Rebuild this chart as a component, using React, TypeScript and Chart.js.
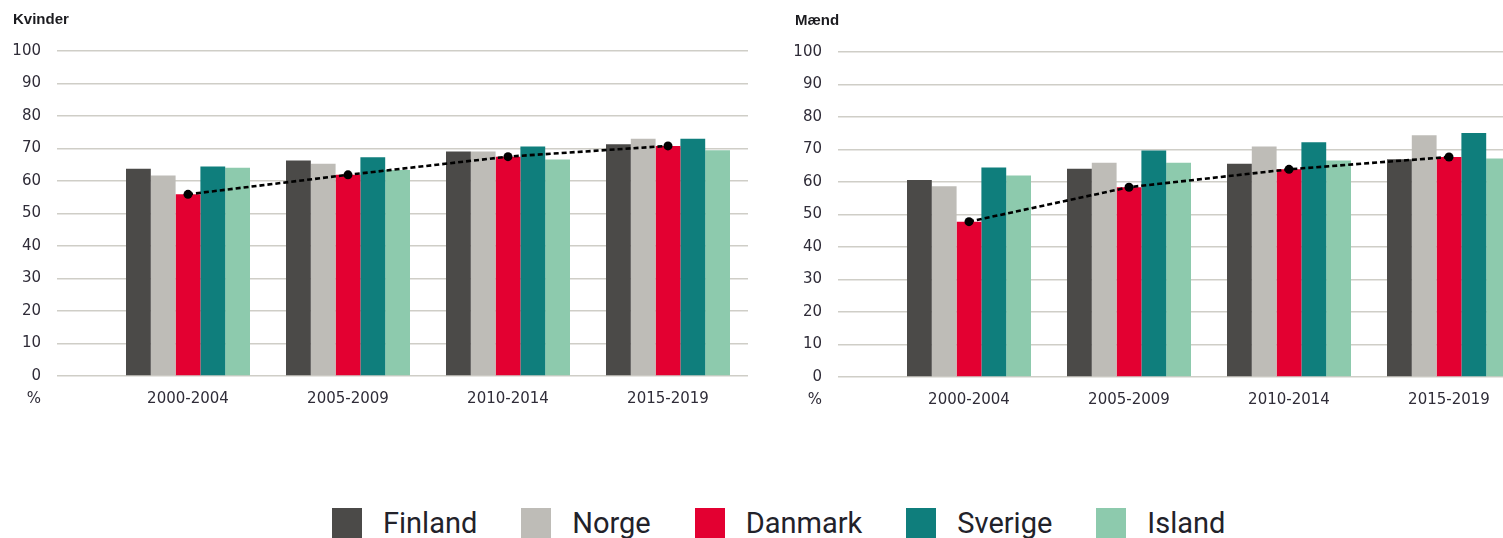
import React, { useEffect, useRef } from "react";
import { Chart, registerables } from "chart.js";

Chart.register(...registerables);

// ---- data ----
const periods = ["2000-2004", "2005-2009", "2010-2014", "2015-2019"];
const countries = ["Finland", "Norge", "Danmark", "Sverige", "Island"];
const colors = ["#4b4a48", "#bebcb7", "#e30031", "#0f7e7c", "#8dcaad"];

const kvinderFinland = [63.8, 66.3, 69.1, 71.3];
const kvinderNorge = [61.7, 65.3, 69.1, 73.0];
const kvinderDanmark = [55.9, 61.9, 67.5, 70.8];
const kvinderSverige = [64.5, 67.3, 70.6, 73.0];
const kvinderIsland = [64.1, 63.4, 66.6, 69.5];

const maendFinland = [60.6, 64.1, 65.6, 67.0];
const maendNorge = [58.7, 65.9, 70.9, 74.4];
const maendDanmark = [47.8, 58.4, 63.9, 67.7];
const maendSverige = [64.5, 69.7, 72.2, 75.1];
const maendIsland = [62.0, 65.9, 66.6, 67.2];

const yMin = 0;
const yMax = 100;
const yStep = 10;
const unitLabel = "%";

// ---- styling ----
const tickFont = { family: "'DejaVu Sans', sans-serif", size: 15 };
const tickColor = "#2f2c38";
const gridColor = "#cfcec7";
const GRID_EXT = 51;
const TICK_PAD = 16;

const percentPlugin = {
  id: "percentLabel",
  afterDraw(chart: any) {
    const { ctx, chartArea } = chart;
    const y = chart.scales.y;
    ctx.save();
    ctx.font = `${tickFont.size}px ${tickFont.family}`;
    ctx.fillStyle = tickColor;
    ctx.textAlign = "right";
    ctx.textBaseline = "middle";
    ctx.fillText(unitLabel, y.right - GRID_EXT - TICK_PAD, chartArea.bottom + 23);
    ctx.restore();
  },
};

type PanelProps = {
  title: string;
  series: number[][];
  trend: number[];
  width: number;
  height: number;
  padLeft: number;
  padRight: number;
  yWidth: number;
  xHeight: number;
  titleTop: number;
  titleBottom: number;
};

function Panel(p: PanelProps) {
  const ref = useRef<HTMLCanvasElement | null>(null);
  useEffect(() => {
    if (!ref.current) return;
    const chart = new Chart(ref.current, {
      type: "bar",
      data: {
        labels: periods,
        datasets: [
          {
            type: "line",
            label: "Danmark (udvikling)",
            data: p.trend,
            borderColor: "#000",
            borderWidth: 2.6,
            borderDash: [5, 3],
            pointRadius: 4.5,
            pointBackgroundColor: "#000",
            pointBorderWidth: 0,
            fill: false,
            tension: 0,
            order: 0,
          } as any,
          ...countries.map((c, i) => ({
            type: "bar",
            label: c,
            data: p.series[i],
            backgroundColor: colors[i],
            borderWidth: 0,
            barPercentage: 1,
            categoryPercentage: 0.775,
            order: 1,
          })),
        ],
      },
      options: {
        animation: false,
        responsive: false,
        maintainAspectRatio: false,
        layout: { padding: { left: p.padLeft, right: p.padRight, top: 0, bottom: 0 } },
        plugins: {
          legend: { display: false },
          tooltip: { enabled: false },
          title: {
            display: true,
            text: p.title,
            align: "start",
            color: "#1b1b1f",
            font: { family: "'Liberation Sans', Arial, sans-serif", size: 15, weight: "bold" },
            padding: { top: p.titleTop, bottom: p.titleBottom },
          },
        },
        scales: {
          x: {
            offset: true,
            grid: { display: false, drawTicks: false },
            border: { display: false },
            ticks: { color: tickColor, font: tickFont, padding: 14 },
            afterFit: (s: any) => {
              s.height = p.xHeight;
            },
          },
          y: {
            min: yMin,
            max: yMax,
            ticks: { stepSize: yStep, color: tickColor, font: tickFont, padding: TICK_PAD },
            grid: { color: gridColor, lineWidth: 1.5, drawTicks: true, tickLength: GRID_EXT },
            border: { display: false },
            afterFit: (s: any) => {
              s.width = p.yWidth;
            },
          },
        },
      } as any,
      plugins: [percentPlugin],
    });
    return () => chart.destroy();
  }, []);
  return (
    <canvas
      ref={ref}
      width={p.width}
      height={p.height}
      style={{ width: p.width, height: p.height, display: "block" }}
    />
  );
}

const legendFont = "Roboto, 'Liberation Sans', sans-serif";

export default function App() {
  return (
    <div
      style={{
        position: "absolute",
        left: 0,
        top: 0,
        width: 1503,
        height: 538,
        overflow: "hidden",
        background: "#fff",
      }}
    >
      <div style={{ position: "absolute", left: 0, top: 0, width: 760, height: 420 }}>
        <Panel
          title="Kvinder"
          series={[kvinderFinland, kvinderNorge, kvinderDanmark, kvinderSverige, kvinderIsland]}
          trend={kvinderDanmark}
          width={760}
          height={420}
          padLeft={13}
          padRight={12}
          yWidth={95}
          xHeight={44}
          titleTop={11}
          titleBottom={22}
        />
      </div>
      <div style={{ position: "absolute", left: 780, top: 0, width: 723, height: 420, overflow: "hidden" }}>
        <Panel
          title="Mænd"
          series={[maendFinland, maendNorge, maendDanmark, maendSverige, maendIsland]}
          trend={maendDanmark}
          width={760}
          height={420}
          padLeft={15}
          padRight={11}
          yWidth={94}
          xHeight={43}
          titleTop={12}
          titleBottom={22}
        />
      </div>
      <div
        style={{
          position: "absolute",
          left: 332,
          top: 508,
          display: "flex",
          alignItems: "center",
          height: 30,
          whiteSpace: "nowrap",
        }}
      >
        {countries.map((c, i) => (
          <div key={c} style={{ display: "flex", alignItems: "center", marginRight: 44 }}>
            <div style={{ width: 30, height: 30, background: colors[i], marginRight: 21 }} />
            <span
              style={{
                fontFamily: legendFont,
                fontSize: 29,
                lineHeight: "30px",
                color: "#22222a",
              }}
            >
              {c}
            </span>
          </div>
        ))}
      </div>
    </div>
  );
}
